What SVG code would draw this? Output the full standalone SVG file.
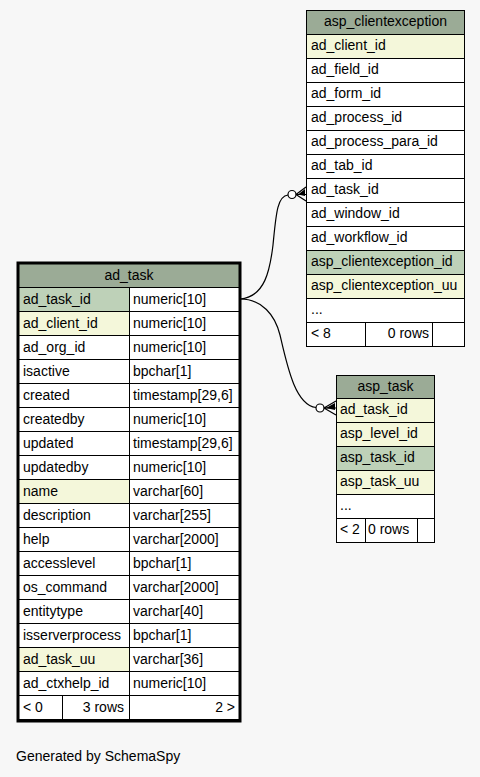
<svg xmlns="http://www.w3.org/2000/svg" width="480" height="777" viewBox="0 0 480 777">
<style>
text{font-family:"Liberation Sans",Arial,sans-serif;font-size:14px;fill:#000;transform:translateY(-1px)}
.c{fill:#fff;stroke:#000;stroke-width:1}
.h{fill:#9bab96;stroke:#000;stroke-width:1}
.pk{fill:#bed1b8;stroke:#000;stroke-width:1}
.ix{fill:#f4f7da;stroke:#000;stroke-width:1}
.m{text-anchor:middle}
.r{text-anchor:end}
.e{fill:none;stroke:#000;stroke-width:1.2}
</style>
<rect x="0" y="0" width="480" height="777" fill="#f7f7f7"/>

<g id="connectors">
<path class="e" d="M240,299 C265,297 270,270 273,245 C276,215 277,196 288,195"/>
<circle cx="292" cy="194.5" r="4" fill="#fff" stroke="#000" stroke-width="1.2"/>
<path class="e" d="M296,194.5 L306,187 M296,194.5 L306,194.5 M296,194.5 L306,201"/>
<path d="M298,194.5 L305,189 L305,196 Z" fill="#000"/>
<path class="e" d="M240,299 C262,299 275,315 280,335 C287,365 295,405 316,407.5"/>
<circle cx="320" cy="408" r="4" fill="#fff" stroke="#000" stroke-width="1.2"/>
<path class="e" d="M324,408 L336,401 M324,408 L336,408 M324,408 L336,415"/>
<path d="M326,408 L335,403 L335,410 Z" fill="#000"/>
</g>

<g id="asp_clientexception">
<rect class="h" x="306.5" y="10.5" width="158" height="24"/>
<text class="m" x="385.5" y="27">asp_clientexception</text>
<rect class="ix" x="306.5" y="34.5" width="158" height="24"/><text x="311" y="51">ad_client_id</text>
<rect class="c" x="306.5" y="58.5" width="158" height="24"/><text x="311" y="75">ad_field_id</text>
<rect class="c" x="306.5" y="82.5" width="158" height="24"/><text x="311" y="99">ad_form_id</text>
<rect class="c" x="306.5" y="106.5" width="158" height="24"/><text x="311" y="123">ad_process_id</text>
<rect class="c" x="306.5" y="130.5" width="158" height="24"/><text x="311" y="147">ad_process_para_id</text>
<rect class="c" x="306.5" y="154.5" width="158" height="24"/><text x="311" y="171">ad_tab_id</text>
<rect class="c" x="306.5" y="178.5" width="158" height="24"/><text x="311" y="195">ad_task_id</text>
<rect class="c" x="306.5" y="202.5" width="158" height="24"/><text x="311" y="219">ad_window_id</text>
<rect class="c" x="306.5" y="226.5" width="158" height="24"/><text x="311" y="243">ad_workflow_id</text>
<rect class="pk" x="306.5" y="250.5" width="158" height="24"/><text x="311" y="267">asp_clientexception_id</text>
<rect class="ix" x="306.5" y="274.5" width="158" height="24"/><text x="311" y="291">asp_clientexception_uu</text>
<rect class="c" x="306.5" y="298.5" width="158" height="24"/><text x="311" y="315">...</text>
<rect class="c" x="306.5" y="322.5" width="59" height="24"/><text x="311" y="339">&lt; 8</text>
<rect class="c" x="365.5" y="322.5" width="67" height="24"/><text class="r" x="429" y="339">0 rows</text>
<rect class="c" x="432.5" y="322.5" width="32" height="24"/>
</g>

<g id="asp_task">
<rect class="h" x="336.5" y="375.5" width="98" height="23"/>
<text class="m" x="385.5" y="392">asp_task</text>
<rect class="ix" x="336.5" y="398.5" width="98" height="24"/><text x="340" y="415">ad_task_id</text>
<rect class="ix" x="336.5" y="422.5" width="98" height="24"/><text x="340" y="439">asp_level_id</text>
<rect class="pk" x="336.5" y="446.5" width="98" height="24"/><text x="340" y="463">asp_task_id</text>
<rect class="ix" x="336.5" y="470.5" width="98" height="24"/><text x="340" y="487">asp_task_uu</text>
<rect class="c" x="336.5" y="494.5" width="98" height="24"/><text x="340" y="511">...</text>
<rect class="c" x="336.5" y="518.5" width="29" height="24"/><text x="340" y="535">&lt; 2</text>
<rect class="c" x="365.5" y="518.5" width="52" height="24"/><text x="368" y="535">0 rows</text>
<rect class="c" x="417.5" y="518.5" width="17" height="24"/>
</g>

<g id="ad_task">
<rect class="h" x="18.5" y="263.5" width="221" height="24"/>
<text class="m" x="129" y="281">ad_task</text>
<rect class="pk" x="18.5" y="287.5" width="111" height="24"/><text x="23" y="305">ad_task_id</text>
<rect class="c" x="129.5" y="287.5" width="110" height="24"/><text x="133" y="305">numeric[10]</text>
<rect class="ix" x="18.5" y="311.5" width="111" height="24"/><text x="23" y="329">ad_client_id</text>
<rect class="c" x="129.5" y="311.5" width="110" height="24"/><text x="133" y="329">numeric[10]</text>
<rect class="c" x="18.5" y="335.5" width="111" height="24"/><text x="23" y="353">ad_org_id</text>
<rect class="c" x="129.5" y="335.5" width="110" height="24"/><text x="133" y="353">numeric[10]</text>
<rect class="c" x="18.5" y="359.5" width="111" height="24"/><text x="23" y="377">isactive</text>
<rect class="c" x="129.5" y="359.5" width="110" height="24"/><text x="133" y="377">bpchar[1]</text>
<rect class="c" x="18.5" y="383.5" width="111" height="24"/><text x="23" y="401">created</text>
<rect class="c" x="129.5" y="383.5" width="110" height="24"/><text x="133" y="401">timestamp[29,6]</text>
<rect class="c" x="18.5" y="407.5" width="111" height="24"/><text x="23" y="425">createdby</text>
<rect class="c" x="129.5" y="407.5" width="110" height="24"/><text x="133" y="425">numeric[10]</text>
<rect class="c" x="18.5" y="431.5" width="111" height="24"/><text x="23" y="449">updated</text>
<rect class="c" x="129.5" y="431.5" width="110" height="24"/><text x="133" y="449">timestamp[29,6]</text>
<rect class="c" x="18.5" y="455.5" width="111" height="24"/><text x="23" y="473">updatedby</text>
<rect class="c" x="129.5" y="455.5" width="110" height="24"/><text x="133" y="473">numeric[10]</text>
<rect class="ix" x="18.5" y="479.5" width="111" height="24"/><text x="23" y="497">name</text>
<rect class="c" x="129.5" y="479.5" width="110" height="24"/><text x="133" y="497">varchar[60]</text>
<rect class="c" x="18.5" y="503.5" width="111" height="24"/><text x="23" y="521">description</text>
<rect class="c" x="129.5" y="503.5" width="110" height="24"/><text x="133" y="521">varchar[255]</text>
<rect class="c" x="18.5" y="527.5" width="111" height="24"/><text x="23" y="545">help</text>
<rect class="c" x="129.5" y="527.5" width="110" height="24"/><text x="133" y="545">varchar[2000]</text>
<rect class="c" x="18.5" y="551.5" width="111" height="24"/><text x="23" y="569">accesslevel</text>
<rect class="c" x="129.5" y="551.5" width="110" height="24"/><text x="133" y="569">bpchar[1]</text>
<rect class="c" x="18.5" y="575.5" width="111" height="24"/><text x="23" y="593">os_command</text>
<rect class="c" x="129.5" y="575.5" width="110" height="24"/><text x="133" y="593">varchar[2000]</text>
<rect class="c" x="18.5" y="599.5" width="111" height="24"/><text x="23" y="617">entitytype</text>
<rect class="c" x="129.5" y="599.5" width="110" height="24"/><text x="133" y="617">varchar[40]</text>
<rect class="c" x="18.5" y="623.5" width="111" height="24"/><text x="23" y="641">isserverprocess</text>
<rect class="c" x="129.5" y="623.5" width="110" height="24"/><text x="133" y="641">bpchar[1]</text>
<rect class="ix" x="18.5" y="647.5" width="111" height="24"/><text x="23" y="665">ad_task_uu</text>
<rect class="c" x="129.5" y="647.5" width="110" height="24"/><text x="133" y="665">varchar[36]</text>
<rect class="c" x="18.5" y="671.5" width="111" height="24"/><text x="23" y="689">ad_ctxhelp_id</text>
<rect class="c" x="129.5" y="671.5" width="110" height="24"/><text x="133" y="689">numeric[10]</text>
<rect class="c" x="18.5" y="695.5" width="44" height="24"/><text x="23" y="713">&lt; 0</text>
<rect class="c" x="62.5" y="695.5" width="67" height="24"/><text class="r" x="124" y="713">3 rows</text>
<rect class="c" x="129.5" y="695.5" width="110" height="24"/><text class="r" x="235" y="713">2 &gt;</text>
<rect x="18" y="263" width="222" height="458" fill="none" stroke="#000" stroke-width="3"/>
</g>

<text x="16" y="762">Generated by SchemaSpy</text>
</svg>
